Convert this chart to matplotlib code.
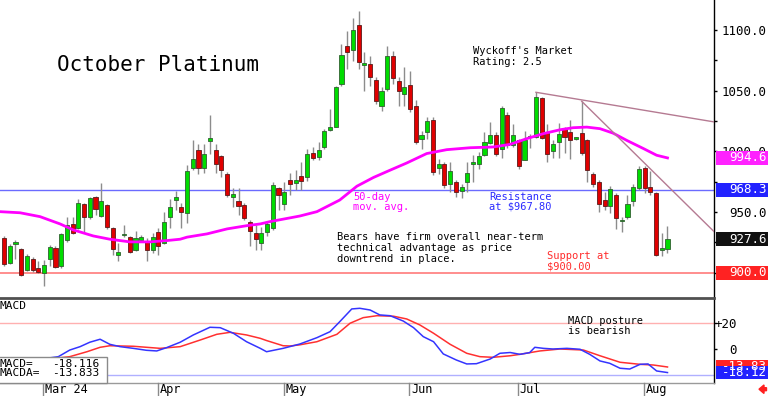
import matplotlib
matplotlib.use("Agg")
import matplotlib.pyplot as plt
import matplotlib.transforms as mtransforms
from matplotlib.patches import Rectangle, FancyArrow
from matplotlib.lines import Line2D
import numpy as np

plt.rcParams['font.family'] = ['DejaVu Sans Mono', 'DejaVu Sans']

# ---------------- data ----------------
opens = [928.5, 908.4, 923.5, 919.7, 901.9, 911.7, 903.9, 899.7, 911.7, 920.3,
         905.2, 927.0, 940.2, 936.7, 956.8, 945.7, 962.6, 946.7, 956.0, 937.2,
         914.5, 931.0, 929.3, 918.9, 927.0, 926.5, 918.3, 933.4, 924.4, 946.2,
         959.9, 954.4, 949.0, 985.9, 1000.9, 985.9, 1008.5, 1001.4, 995.9, 981.2,
         962.6, 958.8, 955.7, 942.0, 932.5, 924.4, 933.9, 936.7, 970.0, 956.6,
         976.3, 974.0, 979.5, 979.0, 998.6, 995.3, 1003.6, 1017.8, 1020.0, 1055.5,
         1086.7, 1083.4, 1104.2, 1071.4, 1072.0, 1058.8, 1037.0, 1051.5, 1078.8, 1058.3,
         1047.4, 1055.0, 1037.8, 1010.5, 1015.9, 1026.0, 986.0, 989.4, 973.0, 974.4,
         967.5, 974.9, 990.0, 990.0, 996.8, 1006.8, 1013.2, 1002.3, 1029.6, 1005.0,
         1009.0, 993.2, 1011.5, 1011.8, 1044.1, 1015.0, 1000.3, 1007.7, 1018.7, 1015.9,
         1010.5, 1015.0, 1009.6, 981.2, 974.9, 959.9, 954.9, 964.0, 942.6, 945.7,
         959.3, 969.5, 986.6, 970.8, 965.4, 919.0, 919.4]
highs = [930.4, 923.8, 927.0, 920.3, 915.6, 912.9, 909.3, 910.7, 923.0, 921.6,
         933.0, 945.7, 946.2, 960.4, 957.6, 962.6, 963.1, 974.0, 956.6, 938.0,
         924.4, 939.4, 930.3, 934.4, 931.0, 928.5, 933.0, 936.7, 950.3, 960.9,
         967.5, 957.2, 988.6, 1009.6, 1006.4, 1006.4, 1029.8, 1006.4, 996.8, 983.0,
         969.5, 969.5, 957.4, 943.5, 939.4, 938.0, 942.6, 975.0, 970.8, 974.9,
         981.8, 984.5, 991.3, 1002.0, 1003.6, 1007.6, 1018.6, 1034.8, 1054.1, 1088.5,
         1099.2, 1110.3, 1115.7, 1081.5, 1078.3, 1061.0, 1052.8, 1087.1, 1083.0, 1061.0,
         1069.5, 1066.4, 1042.0, 1016.7, 1028.7, 1028.0, 993.5, 991.3, 991.0, 976.3,
         973.5, 991.0, 996.8, 999.5, 1015.9, 1024.0, 1015.9, 1037.8, 1032.3, 1022.7,
         1010.5, 1016.7, 1014.0, 1048.7, 1044.6, 1022.7, 1009.0, 1023.2, 1020.0, 1025.5,
         1012.0, 1041.3, 1010.5, 983.0, 976.3, 966.7, 971.3, 965.4, 946.2, 964.0,
         973.0, 987.7, 987.7, 983.9, 966.7, 932.5, 938.5]
lows = [905.2, 907.4, 911.2, 897.5, 901.0, 900.2, 899.7, 889.3, 905.2, 903.9,
        903.9, 925.7, 932.0, 935.8, 933.9, 944.5, 947.6, 945.7, 936.3, 914.8,
        909.8, 929.8, 916.2, 918.0, 925.7, 910.0, 916.2, 914.8, 923.5, 936.7,
        951.7, 936.7, 941.2, 984.5, 981.2, 981.8, 998.2, 982.2, 979.0, 962.6,
        954.4, 947.6, 943.5, 921.6, 918.9, 918.9, 930.0, 935.4, 951.7, 951.7,
        964.0, 968.0, 968.0, 975.7, 993.2, 992.7, 1002.0, 1017.2, 1019.7, 1054.1,
        1067.8, 1074.7, 1068.0, 1050.0, 1053.7, 1039.2, 1033.0, 1050.0, 1055.5, 1037.6,
        1037.6, 1032.3, 1005.8, 1002.3, 1010.5, 980.3, 981.5, 970.0, 966.3, 962.7,
        961.2, 966.7, 975.0, 985.8, 996.0, 1006.4, 996.0, 994.9, 1003.0, 1003.6,
        985.8, 992.7, 1003.0, 1011.3, 1010.5, 991.3, 994.9, 994.9, 998.6, 994.0,
        1009.5, 996.8, 974.9, 970.8, 950.3, 951.7, 949.4, 935.8, 933.9, 944.0,
        954.9, 968.0, 965.8, 964.0, 913.4, 913.4, 916.2]
closes = [907.2, 921.6, 925.4, 898.4, 913.9, 901.9, 900.8, 906.0, 921.3, 904.7,
          932.0, 939.6, 933.0, 957.2, 945.7, 961.5, 952.7, 959.0, 937.5, 919.4,
          917.0, 931.2, 917.2, 928.5, 929.5, 918.9, 929.8, 921.6, 942.0, 954.4,
          962.0, 950.3, 983.9, 993.5, 985.9, 997.6, 1011.3, 990.0, 985.0, 964.0,
          964.8, 954.9, 944.8, 934.0, 927.6, 933.0, 940.2, 972.2, 964.0, 966.7,
          973.5, 976.3, 975.7, 998.2, 994.5, 1000.8, 1016.7, 1020.0, 1052.8, 1079.6,
          1081.5, 1099.8, 1073.8, 1072.5, 1061.5, 1041.9, 1050.0, 1078.8, 1060.5, 1050.0,
          1052.8, 1035.0, 1007.7, 1013.2, 1024.9, 983.0, 990.0, 972.2, 984.0, 966.7,
          970.8, 982.2, 991.0, 996.0, 1007.7, 1013.2, 998.2, 1035.9, 1005.0, 1013.2,
          987.7, 1009.0, 1012.3, 1045.1, 1011.3, 998.2, 1005.8, 1014.6, 1011.8, 1009.6,
          1011.0, 998.6, 985.0, 973.0, 956.6, 954.9, 968.6, 944.8, 943.5, 956.6,
          970.3, 985.8, 969.5, 966.7, 914.8, 920.0, 927.6]

# 50-day moving average, sampled along the curve (bar position, value)
ma_pos = [-0.7, 2.8, 6.3, 9.8, 12.1, 15.6, 18.5, 22.0, 25.5, 28.5, 30.8, 32.0,
          35.5, 39.0, 42.5, 44.8, 46.5, 51.7, 54.7, 58.7, 61.7, 64.6, 67.5, 70.4,
          73.9, 77.4, 81.5, 85.5, 88.5, 91.4, 94.3, 97.2, 99.5, 101.9, 104.2,
          106.5, 108.9, 111.8, 114.1, 116.0]
ma_val = [950.3, 949.4, 946.2, 940.2, 935.3, 930.3, 927.6, 925.4, 925.4, 926.5,
          927.6, 929.3, 932.0, 936.1, 938.8, 940.2, 942.1, 946.7, 950.3, 959.9,
          971.3, 978.5, 984.5, 990.4, 998.2, 1001.4, 1003.0, 1003.6, 1005.8,
          1010.5, 1014.6, 1017.8, 1019.5, 1020.0, 1018.7, 1015.0, 1009.0, 1002.3,
          996.8, 994.6]

# MACD line (blue) and its average (red)
macd_pos = [-0.7, 4.5, 9.5, 11.5, 13.3, 15.0, 16.8, 18.5, 20.3, 22.6, 24.9, 26.7,
            28.4, 30.8, 33.1, 36.0, 37.8, 40.1, 42.4, 44.8, 45.9, 48.8, 51.7,
            54.7, 57.0, 58.7, 60.8, 62.2, 64.0, 65.7, 67.5, 69.8, 71.6, 73.3,
            75.1, 76.8, 79.1, 80.9, 82.6, 85.0, 86.7, 88.5, 90.2, 91.9, 92.8,
            94.3, 96.0, 98.4, 100.7, 102.4, 104.2, 105.9, 107.7, 109.4, 111.2,
            112.6, 114.1, 116.0]
macd_val = [-12.0, -9.0, -5.9, -0.8, 1.8, 5.2, 7.5, 3.6, 1.8, 0.5, -1.0, -1.5,
            1.0, 5.2, 10.8, 16.7, 16.4, 12.1, 5.6, 0.5, -2.1, 0.5, 3.8, 8.7,
            13.3, 21.0, 30.8, 31.3, 30.0, 26.2, 25.6, 21.5, 16.4, 9.5, 5.6,
            -3.8, -8.5, -11.5, -11.3, -7.7, -3.3, -2.7, -4.1, -2.8, 1.3, 0.5,
            0.0, 0.5, -0.2, -4.1, -9.2, -11.0, -14.8, -15.4, -11.8, -11.5,
            -16.9, -18.116]
sig_pos = [-0.7, 6.3, 11.5, 14.5, 16.8, 18.5, 22.6, 27.3, 30.8, 34.3, 37.2, 39.5,
           42.4, 44.8, 45.9, 48.8, 50.0, 51.7, 54.7, 58.2, 60.5, 62.8, 65.2,
           68.1, 70.4, 72.7, 75.1, 78.0, 80.9, 83.2, 85.5, 88.5, 90.2, 93.7,
           97.2, 101.3, 104.2, 107.7, 111.2, 113.5, 116.0]
sig_val = [-9.5, -8.5, -5.9, -2.1, 1.3, 2.5, 2.1, 0.5, 1.8, 6.9, 11.3, 12.8,
           10.8, 8.2, 6.5, 2.5, 2.3, 3.2, 5.6, 11.3, 19.8, 24.1, 25.6, 25.2,
           23.1, 18.5, 12.1, 3.6, -3.3, -5.9, -6.4, -5.2, -4.1, -1.5, 0.0,
           -0.8, -5.2, -10.2, -11.8, -12.3, -13.833]

month_labels = ["Mar 24", "Apr", "May", "Jun", "Jul", "Aug"]
month_pos = [7, 27, 49, 71, 90, 112]

resistance_level = 968.3
support_level = 900.0
trend1_pos = [93.0, 124.13]
trend1_val = [1048.7, 1024.3]
trend2_pos = [101.0, 124.13]
trend2_val = [1041.3, 933.9]

price_ticks = [950, 1000, 1050, 1100]
macd_ticks = [0, 20]
macd_tick_labels = ["0", "+20"]

# ---------------- layout ----------------
W, H = 768, 396
fig = plt.figure(figsize=(W / 100, H / 100), dpi=100)


def fx(x):
    return x / W


def fy(y):
    return 1 - y / H


AXR = 714
ax1 = fig.add_axes([0, fy(297.5), fx(AXR), 297.5 / H])
ax2 = fig.add_axes([0, fy(383), fx(AXR), (383 - 297.5) / H])

XL = (-0.7, 124.13)
for ax in (ax1, ax2):
    ax.set_xlim(*XL)
    ax.set_facecolor('white')
    ax.spines['left'].set_visible(False)
    ax.spines['top'].set_visible(False)
    ax.spines['bottom'].set_visible(False)
    ax.spines['right'].set_color('black')
    ax.spines['right'].set_linewidth(1)
    ax.set_xticks([])

ax1.set_ylim(879.56, 1124.76)
ax2.set_ylim(-26.15, 39.6)
ax2.spines['top'].set_visible(True)
ax2.spines['top'].set_color('#505050')
ax2.spines['top'].set_linewidth(2)
ax2.spines['bottom'].set_visible(True)
ax2.spines['bottom'].set_color('#9a9a9a')
ax2.spines['bottom'].set_linewidth(1)

# ---------------- price panel ----------------
o = np.array(opens)
h = np.array(highs)
l = np.array(lows)
c = np.array(closes)
pos = np.arange(len(c))
up = c >= o

ax1.axhline(resistance_level, color='#6b6bff', lw=1, zorder=2)
ax1.axhline(support_level, color='#ff7a7a', lw=1.2, zorder=2)

ax1.vlines(pos, l, h, color='#8c8c8c', lw=1, zorder=3)
bb = np.minimum(o, c)
bh = np.maximum(np.abs(c - o), 1.0)
ax1.bar(pos[up], bh[up], 0.72, bottom=bb[up], color='#00dc00',
        edgecolor='#2f5f2f', linewidth=0.6, zorder=4)
ax1.bar(pos[~up], bh[~up], 0.72, bottom=bb[~up], color='#e00000',
        edgecolor='#5a1a1a', linewidth=0.6, zorder=4)

ax1.plot(ma_pos, ma_val, color='#ff00ff', lw=2, zorder=5)
ax1.plot(trend1_pos, trend1_val, color='#b57a92', lw=1, zorder=5)
ax1.plot(trend2_pos, trend2_val, color='#b57a92', lw=1, zorder=5)

ax1.yaxis.tick_right()
ax1.set_yticks(price_ticks)
ax1.set_yticklabels([f"{t:.1f}" for t in price_ticks])
ax1.set_yticks(np.arange(900, 1125, 25), minor=True)
ax1.tick_params(axis='y', which='major', direction='out', length=2.5, width=1,
                pad=35.6, labelsize=9, colors='black')
ax1.tick_params(axis='y', which='minor', direction='out', length=2, width=1)
for lbl in ax1.get_yticklabels():
    lbl.set_horizontalalignment('right')

# ---------------- MACD panel ----------------
ax2.axhline(20, color='#ffb0b0', lw=1, zorder=1)
ax2.axhline(-20, color='#b0b0ff', lw=1, zorder=1)
ax2.plot(sig_pos, sig_val, color='#ff3030', lw=1.1, zorder=3)
ax2.plot(macd_pos, macd_val, color='#3434ff', lw=1.1, zorder=4)
ax2.yaxis.tick_right()
ax2.set_yticks(macd_ticks)
ax2.set_yticklabels(macd_tick_labels)
ax2.tick_params(axis='y', direction='out', length=2.5, width=1, pad=14,
                labelsize=9, colors='black')
for lbl in ax2.get_yticklabels():
    lbl.set_horizontalalignment('right')

# ---------------- right-side value boxes ----------------
bt1 = mtransforms.blended_transform_factory(fig.transFigure, ax1.transData)
bt2 = mtransforms.blended_transform_factory(fig.transFigure, ax2.transData)


def value_box(tr, val, hdata, face, txt):
    fig.add_artist(Rectangle((fx(716), val - hdata / 2), 1 - fx(716), hdata,
                             transform=tr, facecolor=face, edgecolor='none',
                             zorder=20))
    fig.text(fx(766.5), val, txt, transform=tr, ha='right', va='center',
             color='white', fontsize=9, zorder=21)


value_box(bt1, ma_val[-1], 11.5, '#ff22ff', f"{ma_val[-1]:.1f}")
value_box(bt1, resistance_level, 11.5, '#2222ff', f"{resistance_level:.1f}")
value_box(bt1, closes[-1], 11.5, '#111111', f"{closes[-1]:.1f}")
value_box(bt1, support_level, 11.5, '#ff2222', f"{support_level:.1f}")
value_box(bt2, sig_val[-1], 10.0, '#ff2222', f"{sig_val[-1]:.2f}")
value_box(bt2, macd_val[-1], 10.0, '#2222ff', f"{macd_val[-1]:.2f}")

# ---------------- date axis ----------------
bdx = mtransforms.blended_transform_factory(ax2.transData, fig.transFigure)
for lab, p in zip(month_labels, month_pos):
    fig.add_artist(Line2D([p - 0.12, p - 0.12], [fy(383), fy(396)],
                          transform=bdx, color='#8a8a8a', lw=1, zorder=5))
    fig.text(p + 0.15, fy(389.5), lab, transform=bdx, ha='left', va='center',
             fontsize=8.6, color='black')

fig.add_artist(FancyArrow(7.665, 0.068, -0.075, 0, width=0.03,
                          head_width=0.085, head_length=0.05,
                          length_includes_head=True,
                          transform=fig.dpi_scale_trans, color='#ff2020',
                          zorder=20))

# ---------------- texts ----------------
fig.text(fx(57), fy(65), "October Platinum", fontsize=15, ha='left',
         va='center', color='black')
fs = 7.5
fig.text(fx(473), fy(51.5), "Wyckoff's Market", fontsize=fs, va='center')
fig.text(fx(473), fy(62), "Rating: 2.5", fontsize=fs, va='center')
fig.text(fx(353), fy(196.5), "50-day", fontsize=fs, va='center', color='#ff00ff')
fig.text(fx(353), fy(207.5), "mov. avg.", fontsize=fs, va='center', color='#ff00ff')
fig.text(fx(489), fy(196.5), "Resistance", fontsize=fs, va='center', color='#2a2aff')
fig.text(fx(489), fy(206.5), "at $967.80", fontsize=fs, va='center', color='#2a2aff')
fig.text(fx(337), fy(237.5), "Bears have firm overall near-term", fontsize=fs, va='center')
fig.text(fx(337), fy(248.5), "technical advantage as price", fontsize=fs, va='center')
fig.text(fx(337), fy(259), "downtrend in place.", fontsize=fs, va='center')
fig.text(fx(547), fy(256), "Support at", fontsize=fs, va='center', color='#ff2a2a')
fig.text(fx(547), fy(266.5), "$900.00", fontsize=fs, va='center', color='#ff2a2a')
fig.text(fx(568), fy(320.5), "MACD posture", fontsize=fs, va='center')
fig.text(fx(568), fy(331), "is bearish", fontsize=fs, va='center')

fig.text(fx(0), fy(306), "MACD", fontsize=8, va='center', ha='left')
fig.add_artist(Rectangle((fx(-2), fy(382.5)), fx(109), 25.5 / H,
                         transform=fig.transFigure, facecolor='white',
                         edgecolor='#8a8a8a', lw=1, zorder=20))
fig.text(fx(0), fy(364), "MACD=", fontsize=8, va='center', zorder=21)
fig.text(fx(99), fy(364), f"{macd_val[-1]:.3f}", fontsize=8, va='center',
         ha='right', zorder=21)
fig.text(fx(0), fy(373.5), "MACDA=", fontsize=8, va='center', zorder=21)
fig.text(fx(99), fy(373.5), f"{sig_val[-1]:.3f}", fontsize=8, va='center',
         ha='right', zorder=21)

fig.savefig("out.png", dpi=100)
